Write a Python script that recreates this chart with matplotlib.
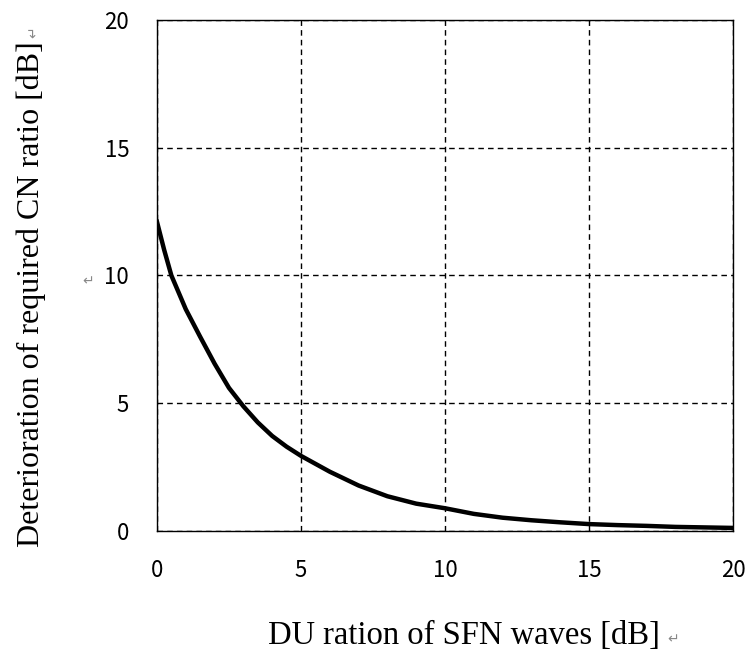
"""DU ratio vs. deterioration of required CN ratio."""
import numpy as np
import matplotlib.pyplot as plt

du_ratio = [0, 0.25, 0.5, 1, 1.5, 2, 2.5, 3, 3.5, 4, 4.5, 5, 6, 7, 8, 9, 10,
            11, 12, 13, 14, 15, 16, 17, 18, 19, 20]
deterioration = [12.1, 11.0, 10.0, 8.68, 7.6, 6.55, 5.6, 4.88, 4.25, 3.72, 3.3, 2.94,
                 2.32, 1.78, 1.36, 1.07, 0.89, 0.67, 0.52, 0.42, 0.34, 0.27, 0.23,
                 0.20, 0.16, 0.14, 0.12]

x_ticks = [0, 5, 10, 15, 20]
y_ticks = [0, 5, 10, 15, 20]

fig = plt.figure(figsize=(7.5, 6.57), dpi=100)
ax = fig.add_axes([0.2093, 0.1918, 0.768, 0.7778])

ax.plot(du_ratio, deterioration, color='black', lw=3.2, solid_joinstyle='round')
ax.set_xlim(0, 20)
ax.set_ylim(0, 20)
ax.set_xticks(x_ticks)
ax.set_yticks(y_ticks)
ax.tick_params(length=0, pad=20, labelsize=16)
for lab in ax.get_xticklabels() + ax.get_yticklabels():
    lab.set_family(['Noto Sans CJK JP', 'DejaVu Sans'])
ax.grid(True, color='black', linestyle=(0, (4, 3)), lw=1)
for s in ax.spines.values():
    s.set_color('black')
    s.set_linewidth(1)

serif = ['Liberation Serif', 'DejaVu Serif']
fig.text(0.042, 0.553, 'Deterioration of required CN ratio [dB]', rotation=90,
         ha='center', va='center', fontsize=23, family=serif)
fig.text(0.619, 0.033, 'DU ration of SFN waves [dB]', ha='center', va='center',
         fontsize=23.5, family=serif)
# stray paragraph marks from the source document
fig.text(0.897, 0.027, '\u21b5', color='#888888', fontsize=10, ha='center', va='center')
fig.text(0.117, 0.571, '\u21b5', color='#888888', fontsize=10, ha='center', va='center')
fig.text(0.045, 0.951, '\u21b5', color='#888888', fontsize=10, ha='center', va='center',
         rotation=90)

plt.savefig('out.png', dpi=100)
plt.close()
